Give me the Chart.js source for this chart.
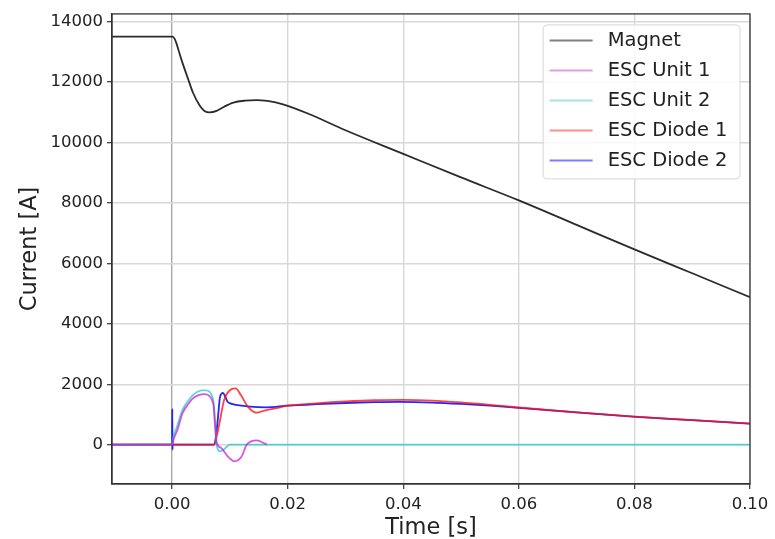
<!DOCTYPE html>
<html>
<head>
<meta charset="utf-8">
<script src="https://cdn.jsdelivr.net/npm/chart.js@4.4.0/dist/chart.umd.min.js"></script>
<style>
  body { margin: 0; background: #fff; }
  #wrap { width: 775px; height: 539px; }
</style>
</head>
<body>
<div id="wrap"><canvas id="chart" width="775" height="539"></canvas></div>
<script>
// values
const xTicks = [0, 0.02, 0.04, 0.06, 0.08, 0.1];
const yTicks = [0, 2000, 4000, 6000, 8000, 10000, 12000, 14000];

const magnetT = [-0.0104, 0, 0.0004, 0.0008, 0.0013, 0.0018, 0.0028, 0.0036, 0.0048, 0.0056, 0.0065, 0.0077, 0.009, 0.0106, 0.0126, 0.0146, 0.0165, 0.0192, 0.0238, 0.03, 0.04, 0.05, 0.06, 0.07, 0.08, 0.09, 0.1];
const magnetI = [13500, 13500, 13440, 13250, 12930, 12630, 12080, 11650, 11210, 11040, 10990, 11040, 11180, 11315, 11380, 11400, 11370, 11260, 10930, 10400, 9620, 8840, 8080, 7270, 6460, 5670, 4880];

const unit1T = [-0.0104, 0, 0.0003, 0.0009, 0.0018, 0.0027, 0.0036, 0.0046, 0.0056, 0.0064, 0.0069, 0.0072, 0.0074, 0.0077, 0.0085, 0.0097, 0.0108, 0.012, 0.0129, 0.0137, 0.0146, 0.0155, 0.0164];
const unit1I = [0, 0, 200, 480, 1040, 1320, 1530, 1640, 1670, 1620, 1480, 1250, 700, 80, -110, -400, -550, -400, 0, 110, 140, 90, 0];

const unit2T = [-0.0104, 0, 0.0002, 0.00076, 0.0018, 0.0027, 0.0036, 0.0044, 0.0051, 0.0058, 0.0065, 0.0069, 0.0072, 0.0075, 0.0077, 0.0083, 0.0089, 0.0094, 0.01, 0.1];
const unit2I = [0, 0, 250, 550, 1150, 1430, 1640, 1750, 1800, 1800, 1750, 1620, 1370, 600, 0, -220, -170, -75, 0, 0];

const diode1T = [-0.0104, 0.0073, 0.0077, 0.0082, 0.009, 0.0102, 0.011, 0.0119, 0.0131, 0.0146, 0.016, 0.018, 0.02, 0.025, 0.03, 0.035, 0.04, 0.045, 0.05, 0.055, 0.06, 0.07, 0.08, 0.09, 0.1];
const diode1I = [0, 0, 250, 713, 1479, 1830, 1863, 1643, 1259, 1061, 1127, 1206, 1290, 1370, 1430, 1470, 1480, 1460, 1400, 1320, 1230, 1070, 930, 810, 700];

const diode2T = [-0.0104, 0, 0.00003, 0.00006, 0.0001, 0.0073, 0.0076, 0.0079, 0.0083, 0.0088, 0.0092, 0.0096, 0.0105, 0.012, 0.0134, 0.0163, 0.02, 0.025, 0.03, 0.035, 0.0393, 0.045, 0.05, 0.055, 0.0594, 0.07, 0.0797, 0.09, 0.1];
const diode2I = [0, 0, 1180, -160, 0, 0, 300, 820, 1585, 1716, 1585, 1420, 1345, 1290, 1258, 1235, 1290, 1340, 1380, 1405, 1415, 1395, 1350, 1290, 1225, 1070, 926, 810, 698];

const pts = (t, v) => t.map((x, i) => ({ x: x, y: v[i] }));

function series(label, t, v, color) {
  return {
    label: label,
    data: pts(t, v),
    borderColor: color,
    borderWidth: 1.8,
    pointRadius: 0,
    fill: false,
    cubicInterpolationMode: "monotone",
  };
}

// matplotlib style frame around the axes
const framePlugin = {
  id: "frame",
  afterDatasetsDraw(chart) {
    const { ctx, chartArea: a } = chart;
    ctx.save();
    ctx.strokeStyle = "#333";
    ctx.lineWidth = 1.3;
    ctx.strokeRect(a.left, a.top, a.right - a.left, a.bottom - a.top);
    ctx.restore();
  },
};

// legend box in the upper right corner of the plot
const legendPlugin = {
  id: "boxLegend",
  afterDraw(chart) {
    const { ctx, chartArea: a } = chart;
    const sets = chart.data.datasets;
    ctx.save();
    ctx.font = "19.5px 'DejaVu Sans'";
    let tw = 0;
    sets.forEach((d) => (tw = Math.max(tw, ctx.measureText(d.label).width)));
    const w = tw + 77;
    const h = 154;
    const x = a.right - 10 - w;
    const y = a.top + 11;
    ctx.fillStyle = "rgba(255,255,255,0.85)";
    ctx.strokeStyle = "#d6d6d6";
    ctx.lineWidth = 1;
    ctx.beginPath();
    ctx.roundRect(x, y, w, h, 4);
    ctx.fill();
    ctx.stroke();
    sets.forEach((d, i) => {
      const ry = y + 15.5 + i * 30;
      ctx.globalAlpha = 0.6;
      ctx.strokeStyle = d.borderColor;
      ctx.lineWidth = 2;
      ctx.beginPath();
      ctx.moveTo(x + 6.5, ry);
      ctx.lineTo(x + 49.5, ry);
      ctx.stroke();
      ctx.globalAlpha = 1;
      ctx.fillStyle = "#222";
      ctx.textBaseline = "middle";
      ctx.fillText(d.label, x + 64.5, ry + 1);
    });
    ctx.restore();
  },
};

new Chart(document.getElementById("chart"), {
  type: "line",
  data: {
    datasets: [
      series("Magnet", magnetT, magnetI, "rgba(20,20,20,0.9)"),
      series("ESC Unit 1", unit1T, unit1I, "rgba(200,30,210,0.75)"),
      series("ESC Unit 2", unit2T, unit2I, "rgba(40,200,200,0.75)"),
      series("ESC Diode 1", diode1T, diode1I, "rgba(255,20,20,0.8)"),
      series("ESC Diode 2", diode2T, diode2I, "rgba(25,25,255,0.95)"),
    ],
  },
  options: {
    responsive: false,
    animation: false,
    layout: { padding: { top: 10, right: 25, left: 0, bottom: 0 } },
    plugins: {
      legend: { display: false },
      tooltip: { enabled: false },
    },
    scales: {
      x: {
        type: "linear",
        min: -0.0104,
        max: 0.1,
        afterBuildTicks: (s) => (s.ticks = xTicks.map((v) => ({ value: v }))),
        afterFit: (s) => (s.height = 55),
        ticks: {
          callback: (v) => v.toFixed(2),
          font: { family: "DejaVu Sans", size: 16.5 },
          color: "#222",
          padding: 6,
          maxRotation: 0,
        },
        grid: {
          color: (c) => (c.tick && c.tick.value === 0 ? "#a8a8a8" : "#d8d8d8"),
          lineWidth: 1.4,
          tickColor: "#333",
          tickLength: 5,
          tickWidth: 1.2,
        },
        border: { color: "#333", width: 1.3 },
        title: {
          display: true,
          text: "Time [s]",
          font: { family: "DejaVu Sans", size: 22.5, lineHeight: 1 },
          color: "#222",
          padding: { top: 0, bottom: 0 },
        },
      },
      y: {
        type: "linear",
        min: -1300,
        max: 14250,
        afterBuildTicks: (s) => (s.ticks = yTicks.map((v) => ({ value: v }))),
        afterFit: (s) => (s.width = 112),
        ticks: {
          callback: (v) => String(v),
          font: { family: "DejaVu Sans", size: 16.5 },
          color: "#222",
          padding: 4,
        },
        grid: {
          color: "#d8d8d8",
          lineWidth: 1.4,
          tickColor: "#333",
          tickLength: 5,
          tickWidth: 1.2,
        },
        border: { color: "#333", width: 1.3 },
        title: {
          display: true,
          text: "Current [A]",
          font: { family: "DejaVu Sans", size: 22.5, lineHeight: 1 },
          color: "#222",
          padding: { top: 19, bottom: 0 },
        },
      },
    },
  },
  plugins: [framePlugin, legendPlugin],
});
</script>
</body>
</html>
